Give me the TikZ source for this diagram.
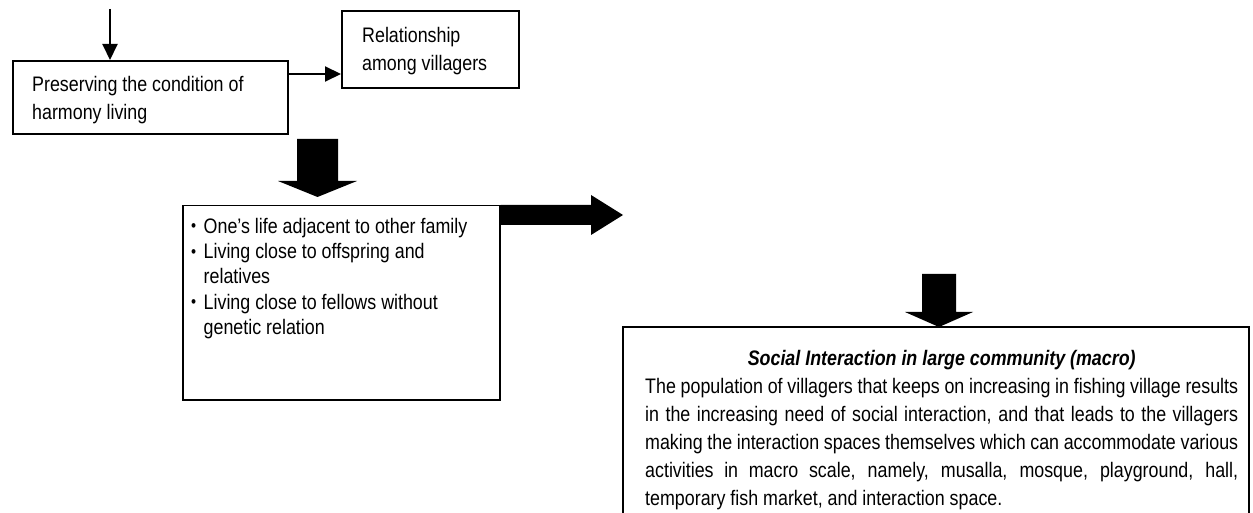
\documentclass[tikz,border=0pt]{standalone}
\usepackage{fontspec}
\setmainfont{Liberation Sans}[FakeStretch=0.85]
\usetikzlibrary{arrows.meta}
\newcommand{\bul}{\makebox[12.5bp][l]{\raisebox{1.2bp}{\fontsize{17bp}{17bp}\selectfont\textbullet}}}
\newcommand{\fst}{\rule{0pt}{16bp}}
\begin{document}
\begin{tikzpicture}[x=1bp,y=-1bp,
  box/.style={draw=black, line width=1.6bp, inner sep=0pt, anchor=north west},
  txt/.style={inner sep=0pt, anchor=north west, align=left, font=\fontsize{21bp}{28bp}\selectfont},
  thinarrow/.style={line width=2bp, -{Triangle[length=16bp,width=15bp]}},
  block/.style={fill=black, draw=none}]
\useasboundingbox (0,0) rectangle (1253,513);
\clip (0,0) rectangle (1253,513);
\fill[white] (0,0) rectangle (1253,513);

% boxes
\node[box, minimum width=275bp, minimum height=73bp] (b1) at (12,60) {};
\node[box, minimum width=177bp, minimum height=77bp] (b2) at (341,10) {};
\node[box, minimum width=317bp, minimum height=194bp, line width=1.5bp] (b3) at (182,205) {};
\node[box, minimum width=626bp, minimum height=210bp] (b4) at (622,326) {};

% texts
\node[txt] (t1) at (32,75) {\fst Preserving the condition of\\harmony living};
\node[txt] (t2) at (362,26) {\fst Relationship\\among villagers};
\node[txt, font=\fontsize{21bp}{25.3bp}\selectfont] (t3) at (191,217) {\fst\bul One's life adjacent to other family\\
\bul Living close to offspring and\\
\hspace*{12.5bp}relatives\\
\bul Living close to fellows without\\
\hspace*{12.5bp}genetic relation};
\node[txt] (t4) at (645,349) {\fst\makebox[593bp][c]{\bfseries\itshape Social Interaction in large community (macro)}\\
\makebox[593bp][s]{The population of villagers that keeps on increasing in fishing village results}\\
\makebox[593bp][s]{in the increasing need of social interaction, and that leads to the villagers}\\
\makebox[593bp][s]{making the interaction spaces themselves which can accommodate various}\\
\makebox[593bp][s]{activities in macro scale, namely, musalla, mosque, playground, hall,}\\
temporary fish market, and interaction space.};

% thin arrows
\coordinate (top) at (110,9);
\draw[thinarrow] (top) -- (top |- b1.north);
\coordinate (a12) at (287,74);
\draw[thinarrow] (a12) -- (a12 -| b2.west);

% block arrows
\fill[block] (297,139) -- (338,139) -- (338,181) -- (357,181) -- (317.5,197) -- (278,181) -- (297,181) -- cycle;
\fill[block] (b3.north east) -- (591,205) -- (591,195) -- (623,215) -- (591,235) -- (591,225) -- (499,225) -- cycle;
\fill[block] (922,274) -- (956,274) -- (956,312) -- (973,312) -- (939,327) -- (905,312) -- (922,312) -- cycle;
\end{tikzpicture}
\end{document}
